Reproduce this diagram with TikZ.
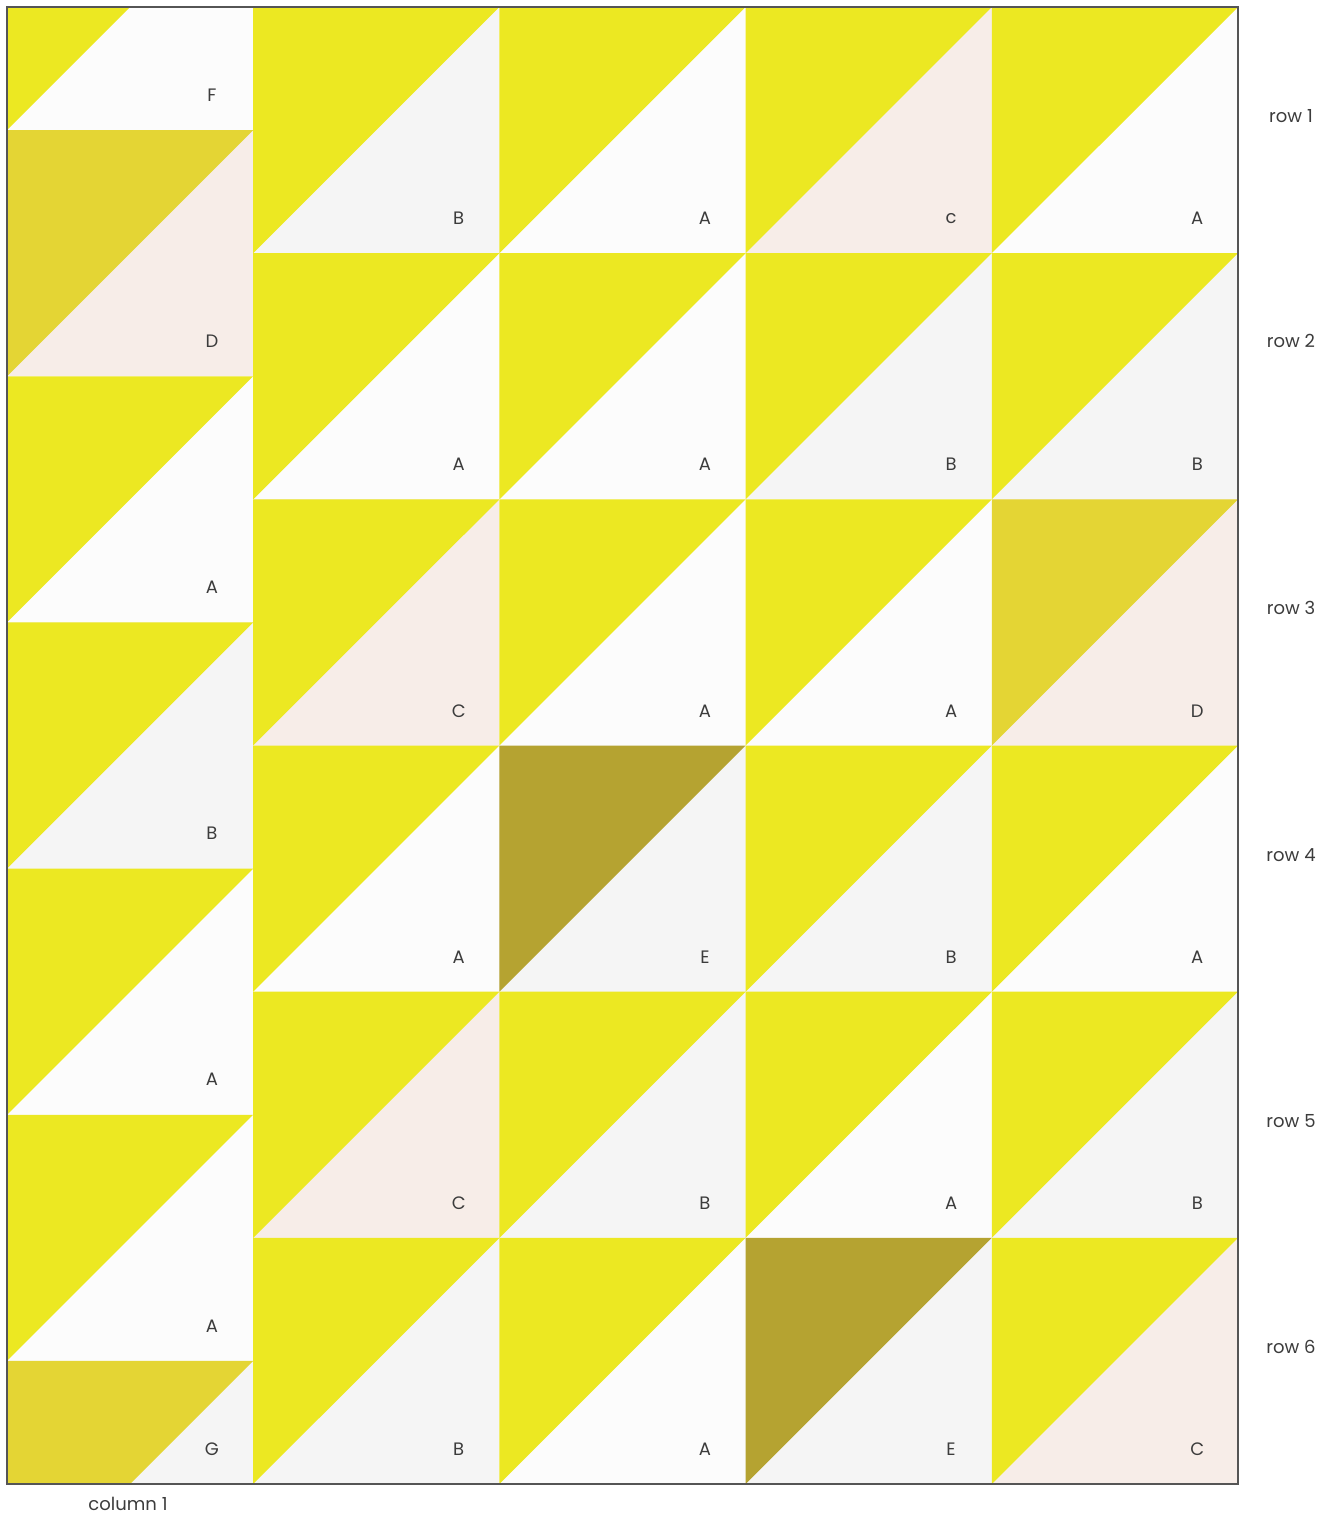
\documentclass[tikz,border=0pt]{standalone}
\usepackage{fontspec}
\setmainfont{Poppins}
\usepackage{xcolor}
\usepackage{tikz}
\usetikzlibrary{positioning}

% fabric colours
\definecolor{quiltyellow}{RGB}{236,232,34}
\definecolor{darkyellow}{RGB}{228,213,52}
\definecolor{olive}{RGB}{181,163,49}
\definecolor{patchwhite}{RGB}{252,252,252}
\definecolor{patchgray}{RGB}{245,245,245}
\definecolor{patchpink}{RGB}{247,237,232}
\definecolor{labelgray}{RGB}{60,60,60}
\definecolor{framegray}{RGB}{85,85,85}

% upper / lower triangle per fabric letter
\colorlet{upA}{quiltyellow} \colorlet{loA}{patchwhite}
\colorlet{upB}{quiltyellow} \colorlet{loB}{patchgray}
\colorlet{upC}{quiltyellow} \colorlet{loC}{patchpink}
\colorlet{upc}{quiltyellow} \colorlet{loc}{patchpink}
\colorlet{upD}{darkyellow}  \colorlet{loD}{patchpink}
\colorlet{upE}{olive}       \colorlet{loE}{patchgray}
\colorlet{upF}{quiltyellow} \colorlet{loF}{patchwhite}
\colorlet{upG}{darkyellow}  \colorlet{loG}{patchgray}

\tikzstyle{patchlabel} = [font=\fontsize{9}{11}\selectfont, text=labelgray, inner sep=0pt]
\tikzstyle{rowlabel}   = [patchlabel]
\tikzstyle{frame}      = [draw=framegray, line width=0.7pt]

% half-square triangle block: x, y, letter
\newcommand{\hstblock}[3]{%
  \fill[fill=lo#3] (#1,#2) rectangle ++(246.2,246.17);
  \fill[fill=up#3] (#1,#2) -- ++(246.2,0) -- ++(-246.2,246.17) -- cycle;
}

\begin{document}
\begin{tikzpicture}[x=0.5pt, y=-0.5pt]
  \useasboundingbox (0,0) rectangle (1330,1516);

  \begin{scope}
    \clip (7,7) rectangle (1238,1484);

    % Column 1 (offset by half a block)
    \foreach \lbl [count=\k from 0] in {F,D,A,B,A,A,G} {
      \pgfmathsetmacro\by{-116.08+246.17*\k}
      \pgfmathsetmacro\ly{min(\by+211,1449)}
      \hstblock{7}{\by}{\lbl}
      \node[patchlabel] (lbl-1-\k) at (212,\ly) {\lbl};
    }

    % Columns 2--5
    \foreach \c/\labels in {2/{B,A,C,A,C,B}, 3/{A,A,A,E,B,A},
                            4/{c,B,A,B,A,E}, 5/{A,B,D,A,B,C}} {
      \foreach \lbl [count=\r] in \labels {
        \pgfmathsetmacro\bx{7+246.2*(\c-1)}
        \pgfmathsetmacro\by{7+246.17*(\r-1)}
        \hstblock{\bx}{\by}{\lbl}
        \node[patchlabel] (lbl-\c-\r) at (\bx+205.5,\by+211.5) {\lbl};
      }
    }
  \end{scope}

  % Outline
  \draw[frame] (7,7) rectangle (1238,1484);

  % Row and column labels
  \foreach \y [count=\r] in {116,341,608,855,1121,1347}
    \node[rowlabel] (row-\r) at (1291,\y) {row \r};
  \node[rowlabel] (col-1) at (128,1504) {column 1};
\end{tikzpicture}
\end{document}
